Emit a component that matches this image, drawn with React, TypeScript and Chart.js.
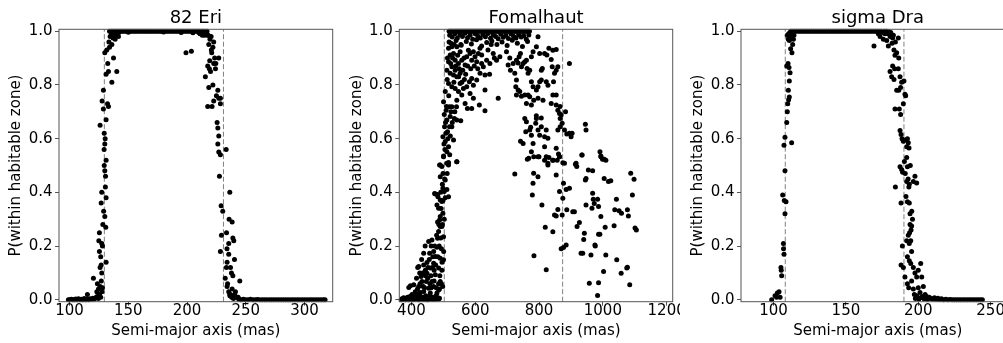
import React, { useEffect, useRef } from "react";
import { Chart, registerables } from "chart.js";

Chart.register(...registerables);

type Pt = [number, number];

// ---------- tick labels / ranges ----------
const yTickValues = [0, 0.2, 0.4, 0.6, 0.8, 1.0];
const eriTickValues = [100, 150, 200, 250, 300];
const fomTickValues = [400, 600, 800, 1000, 1200];
const sigTickValues = [100, 150, 200, 250];

const eriHabitableZone = [129.6, 231];
const fomHabitableZone = [503, 874];
const sigHabitableZone = [108.1, 190.1];

const eriXRange = [91, 324];
const fomXRange = [362, 1219];
const sigXRange = [77.5, 266.5];
const yRange = [-0.007, 1.007];

const titles = ["82 Eri", "Fomalhaut", "sigma Dra"];
const xAxisLabel = "Semi-major axis (mas)";
const yAxisLabel = "P(within habitable zone)";

// ---------- 82 Eri ----------
const eriPoints: Pt[] = [
  [99, 0], [100.3, 0], [101.5, 0.002], [102.7, 0], [104, 0], [105.2, 0.003], [106.4, 0], [107.6, 0.004], [108.8, 0], [110, 0.002],
  [111.3, 0], [112.5, 0.005], [113.7, 0], [114.9, 0.003], [116.1, 0], [117.3, 0.004], [118.5, 0.002], [119.8, 0.006], [121, 0.003],
  [122.2, 0.008], [123.4, 0.012], [124.5, 0.005], [125.5, 0.015],
  [115.2, 0.02], [120.3, 0.08], [123.2, 0.03], [123.7, 0.06], [124.6, 0.04], [126, 0.05], [126, 0.12], [126.9, 0.13], [127.4, 0.1],
  [125.4, 0.18], [124.9, 0.22], [127.4, 0.21], [125.4, 0.25], [128.3, 0.28], [130.8, 0.27], [131.1, 0.14], [126.9, 0.36], [131.1, 0.38],
  [127.4, 0.4], [130.6, 0.46], [131.1, 0.52], [129.4, 0.56], [130.3, 0.6], [126, 0.65], [131.1, 0.67], [128.8, 0.71], [127.7, 0.74],
  [132.3, 0.73], [133.1, 0.72], [128.8, 0.78], [131.1, 0.84], [133.1, 0.85], [140.2, 0.85], [136, 0.81], [137.4, 0.9], [130, 0.92],
  [131.7, 0.93], [136, 0.95], [138.8, 0.97], [141.6, 0.98], [139.7, 0.99],
  [130, 0.48], [130.5, 0.42], [129.5, 0.5], [130, 0.58], [129.5, 0.62], [130, 0.31], [129, 0.33], [128, 0.2], [126.5, 0.16], [127, 0.07],
  [125.5, 0.02], [126.5, 0.01], [127.5, 0.03], [128, 0.045],
  [133.5, 0.96], [134.5, 0.98], [135.5, 0.99], [137, 0.975], [138, 0.985], [134, 0.94], [132.5, 0.88],
  [134, 1], [135.5, 1], [137, 1], [138.5, 1], [140, 1], [141.5, 1], [143, 1], [144.5, 1], [146, 1], [147.5, 1], [149, 1], [150.5, 1],
  [152, 1], [153.5, 1], [155, 1], [156.5, 1], [158, 1], [159.5, 1], [161, 1], [162.5, 1], [164, 1], [165.5, 1], [167, 1], [168.5, 1],
  [170, 1], [171.5, 1], [173, 1], [174.5, 1], [176, 1], [177.5, 1], [179, 1], [180.5, 1], [182, 1], [183.5, 1], [185, 1], [186.5, 1],
  [188, 1], [189.5, 1], [191, 1], [192.5, 1], [194, 1], [195.5, 1], [197, 1], [198.5, 1], [200, 1], [201.5, 1], [203, 1], [204.5, 1],
  [206, 1], [207.5, 1], [209, 1], [210.5, 1], [212, 1], [213.5, 1], [215, 1],
  [142, 0.995], [150, 0.996], [180, 0.997], [195, 0.995], [205, 0.994], [211, 0.99], [213, 0.985], [216, 0.99], [217.5, 0.985],
  [199.1, 0.92], [203.7, 0.925],
  [222.7, 0.96], [218.5, 0.95], [220.7, 0.93], [227, 0.9], [219.3, 0.89], [222.7, 0.88], [217.6, 0.87], [224.2, 0.86], [215.6, 0.83],
  [218.5, 0.79], [226.2, 0.78], [225, 0.76], [228.4, 0.75], [222.7, 0.74], [217.6, 0.72], [221.3, 0.72], [228.4, 0.73], [225.6, 0.66],
  [226.2, 0.64], [227, 0.61], [226.2, 0.58], [227, 0.55], [228.4, 0.54], [233.3, 0.56], [227.6, 0.46], [229, 0.35], [230.4, 0.33],
  [236.4, 0.4], [235.8, 0.3], [238.4, 0.29], [229.3, 0.24], [233.6, 0.25], [239, 0.23], [239.8, 0.22], [235.5, 0.21], [228.4, 0.18],
  [235.5, 0.17], [240.4, 0.15], [234.1, 0.14], [237, 0.12], [237.8, 0.1], [239, 0.09], [244.9, 0.07], [234.1, 0.05], [238.4, 0.04],
  [241.2, 0.03], [236.4, 0.02], [242.7, 0.01],
  [216, 0.99], [218, 0.985], [219.5, 0.97], [220.5, 0.98], [222, 0.94], [223.5, 0.9], [221, 0.92], [220, 0.85], [224.5, 0.88], [222, 0.8],
  [227, 0.75], [219, 0.86], [214, 0.995], [212, 0.99], [210, 0.995], [217, 1], [215, 0.985],
  [234.5, 0.06], [235.5, 0.03], [237, 0.02], [238, 0.01], [239.5, 0.005], [240.5, 0.02], [241.5, 0.01], [233.5, 0.12], [234, 0.19],
  [232.5, 0.08], [236.5, 0.015], [243.5, 0.01],
  [244, 0.003], [246, 0], [248, 0.002], [250, 0], [252, 0], [254, 0.002], [256, 0], [258, 0], [260, 0.001], [262, 0], [264, 0], [266, 0],
  [268, 0], [270, 0], [272, 0], [274, 0], [276, 0], [278, 0], [280, 0], [282, 0], [284, 0], [286, 0], [288, 0], [290, 0], [292, 0],
  [294, 0], [296, 0], [298, 0], [300, 0], [302, 0], [304, 0], [306, 0], [308, 0], [310, 0], [312, 0], [314, 0], [316, 0], [317.5, 0],
];

// ---------- Fomalhaut ----------
const fomPoints: Pt[] = [
  [368, 0], [370.5, 0.004], [373, 0.001], [375.5, 0.008], [378, 0.002], [380.5, 0], [383, 0.006], [385.5, 0.003], [388, 0.01], [390.5, 0],
  [393, 0.005], [395.5, 0.012], [398, 0.002], [400.5, 0.007], [403, 0], [405.5, 0.004], [408, 0.009], [410.5, 0.001], [413, 0.006],
  [415.5, 0.011], [418, 0.003], [420.5, 0.008], [423, 0], [425.5, 0.005], [428, 0.013], [430.5, 0.002], [433, 0.007], [435.5, 0.004],
  [438, 0.01], [440.5, 0.001], [443, 0.006], [445.5, 0.003], [448, 0.009], [450.5, 0], [453, 0.005], [455.5, 0.012], [458, 0.002],
  [460.5, 0.007], [463, 0.004], [465.5, 0.01], [468, 0.001], [470.5, 0.006], [473, 0.003], [475.5, 0.009], [478, 0.002], [480.5, 0.005],
  [483, 0.008], [485.5, 0.003], [488, 0.006],
  [396.9, 0.052], [407.3, 0.056], [422.8, 0.124], [430.1, 0.087], [438.4, 0.13], [443.6, 0.11], [448.8, 0.139], [433.2, 0.068],
  [422.8, 0.05], [446.7, 0.068], [454, 0.217], [457.1, 0.173], [464.4, 0.223], [469.6, 0.18], [438.4, 0.173], [448.8, 0.099],
  [459.2, 0.118], [469.6, 0.136], [474.8, 0.161], [480, 0.196], [482, 0.229], [485.2, 0.254], [488.3, 0.297], [490.3, 0.31],
  [474.8, 0.394], [483.1, 0.384], [480, 0.353], [485.2, 0.341], [490.3, 0.372], [495.5, 0.366], [498.6, 0.415], [502.8, 0.403],
  [498.6, 0.322], [490.3, 0.273], [495.5, 0.273], [500.7, 0.235], [490.3, 0.458], [488.3, 0.502], [495.5, 0.496], [500.7, 0.533],
  [511.1, 0.508], [516.3, 0.511], [542.3, 0.514], [506, 0.446], [511.1, 0.411], [516.3, 0.384], [500.7, 0.149], [495.5, 0.11],
  [490.3, 0.068], [485.2, 0.037], [469.6, 0.05], [459.2, 0.025], [480, 0.025], [438.4, 0.031], [428, 0.027], [417.7, 0.021],
  [464.4, 0.068], [474.8, 0.093], [485.2, 0.118], [490.3, 0.155], [454, 0.043],
  [412, 0.03], [427, 0.06], [435, 0.1], [441, 0.045], [451, 0.08], [456, 0.15], [461, 0.09], [466, 0.12], [471, 0.07], [476, 0.13],
  [478, 0.045], [483, 0.16], [487, 0.2], [492, 0.23], [494, 0.19], [497, 0.28], [493, 0.34], [499, 0.37], [486, 0.28], [479, 0.24],
  [473, 0.2], [467, 0.16], [462, 0.2], [452, 0.12], [444, 0.09], [416, 0.08], [409, 0.015], [402, 0.02], [445, 0.015], [462, 0.045],
  [477, 0.015], [489, 0.09], [496, 0.14], [501, 0.18], [503, 0.3], [504, 0.45], [497, 0.43], [492, 0.4], [506, 0.38], [482, 0.29],
  [471, 0.11], [458, 0.06], [443, 0.2], [432, 0.15], [426, 0.1], [419, 0.04], [437, 0.05], [485, 0.06], [498, 0.05], [494, 0.06],
  [488, 0.04], [419.7, 0.12], [391.7, 0.046], [472.7, 0.396], [482, 0.392],
  [506, 0.775], [500.7, 0.737], [509, 0.706], [511.1, 0.669], [503.8, 0.644], [513.2, 0.626], [519.4, 0.719], [526.7, 0.719],
  [521.5, 0.682], [534.5, 0.675], [541.3, 0.719], [519.4, 0.644], [526.7, 0.644], [531.9, 0.595], [516.3, 0.57], [506, 0.589],
  [498.7, 0.607], [500.7, 0.535], [511.1, 0.551], [542.3, 0.669], [554.7, 0.667], [490.3, 0.502], [516.3, 0.502], [542.3, 0.514],
  [503, 0.69], [508, 0.62], [514, 0.6], [522, 0.61], [528, 0.66], [536, 0.7], [505, 0.56], [510, 0.72], [517, 0.76], [524, 0.7],
  [502, 0.58], [507, 0.66], [520, 0.54], [512, 0.47], [499, 0.47],
  [511.1, 0.855], [516.3, 0.886], [521.5, 0.911], [516.3, 0.936], [526.7, 0.942], [531.9, 0.917], [537.1, 0.892], [542.3, 0.942],
  [552.7, 0.923], [547.5, 0.88], [557.8, 0.892], [521.5, 0.843], [526.7, 0.868], [531.9, 0.837], [537.1, 0.855], [542.3, 0.83],
  [552.7, 0.843], [560.9, 0.855], [568.2, 0.874], [573.4, 0.905], [578.6, 0.929], [583.8, 0.917], [589, 0.892], [594.2, 0.923],
  [599.4, 0.905], [604.6, 0.886], [609.8, 0.917], [615, 0.936], [620.2, 0.911], [625.4, 0.868], [635.8, 0.892], [630.6, 0.837],
  [516.3, 0.805], [526.7, 0.793], [537.1, 0.787], [547.5, 0.775], [552.7, 0.805], [557.8, 0.762], [542.3, 0.743], [563, 0.787],
  [573.4, 0.793], [581.7, 0.812], [589, 0.824], [594.2, 0.799], [583.8, 0.768], [568.2, 0.731], [575.4, 0.712], [589, 0.712],
  [612.9, 0.725], [630.6, 0.781], [630.6, 0.704], [594.2, 0.75], [604.6, 0.818], [615, 0.843], [672, 0.75], [666.8, 0.892],
  [646, 0.88], [656.4, 0.917],
  [513, 0.9], [518, 0.96], [523, 0.88], [529, 0.9], [534, 0.95], [539, 0.87], [545, 0.91], [550, 0.86], [555, 0.95], [565, 0.9],
  [570, 0.84], [576, 0.87], [586, 0.86], [597, 0.87], [608, 0.86], [620, 0.88], [640, 0.93], [650, 0.95], [660, 0.9], [645, 0.84],
  [512, 0.82], [533, 0.81], [548, 0.83], [558, 0.81], [566, 0.82],
  [677.2, 0.905], [698, 0.923], [708.4, 0.9], [703.2, 0.874], [710.4, 0.855], [718.8, 0.88], [724, 0.843], [729.2, 0.892],
  [734.4, 0.882], [737.6, 0.905], [741.7, 0.917], [744.9, 0.868], [750.1, 0.88], [755.3, 0.886], [760.5, 0.892], [762.5, 0.861],
  [765.7, 0.843], [770.9, 0.855], [776.1, 0.905], [781.3, 0.923], [791.7, 0.942], [796.8, 0.979], [802, 0.917], [807.2, 0.855],
  [810.3, 0.861], [802, 0.812], [807.2, 0.818], [796.8, 0.793], [791.7, 0.781], [781.3, 0.793], [776.1, 0.812], [729.2, 0.818],
  [727.1, 0.793], [734.4, 0.781], [739.6, 0.775], [729.2, 0.762], [744.9, 0.758], [755.3, 0.762], [765.7, 0.762], [770.9, 0.756],
  [760.5, 0.731], [776.1, 0.725], [783.4, 0.743], [796.8, 0.75], [812.4, 0.743], [822.8, 0.812], [828, 0.799], [817.4, 0.917],
  [824.6, 0.911], [830.9, 0.936], [838.2, 0.895], [841.3, 0.868], [843.4, 0.929], [838.2, 0.731], [843.4, 0.762], [853.8, 0.762],
  [845.4, 0.812], [853.8, 0.725], [859, 0.706], [864.2, 0.694], [869.4, 0.688], [866.3, 0.675], [859, 0.632], [866.3, 0.644],
  [872.5, 0.657], [879.8, 0.632], [895.3, 0.88], [887, 0.617], [895.3, 0.62], [903.6, 0.62], [900.5, 0.607], [945.2, 0.654],
  [947.3, 0.632], [755.3, 0.675], [760.5, 0.663], [750.1, 0.582], [758.4, 0.626], [770.9, 0.632], [776.1, 0.613], [791.7, 0.675],
  [789.6, 0.657], [796.8, 0.632], [802, 0.613], [807.2, 0.644], [817.4, 0.607], [822.6, 0.632], [827.8, 0.601], [817.4, 0.57],
  [781.3, 0.582], [783.4, 0.533], [767.7, 0.527], [776.1, 0.551], [742, 0.59], [796.8, 0.533], [822.6, 0.533], [827.8, 0.508],
  [843.4, 0.52], [853.8, 0.564], [856.9, 0.52], [864.2, 0.533], [874.6, 0.51], [914.1, 0.505], [935, 0.539], [991, 0.551],
  [994, 0.533], [1004.4, 0.523], [1009.6, 0.52], [853.8, 0.855], [859, 0.868], [848.5, 0.843], [853.8, 0.932],
  [773.8, 0.642], [807, 0.677], [791.5, 0.685], [866, 0.72], [883, 0.7],
  [518, 1], [522, 1], [526, 1], [530, 1], [534, 1], [538, 1], [542, 1], [546, 1], [550, 1], [554, 1], [558, 1], [562, 1], [566, 1],
  [570, 1], [574, 1], [578, 1], [582, 1], [586, 1], [590, 1], [594, 1], [598, 1], [602, 1], [606, 1], [610, 1], [614, 1], [618, 1],
  [622, 1], [626, 1], [630, 1], [634, 1], [638, 1], [642, 1], [646, 1], [650, 1], [654, 1], [658, 1], [662, 1], [666, 1], [670, 1],
  [674, 1], [678, 1], [682, 1], [686, 1], [690, 1], [694, 1], [698, 1], [702, 1], [706, 1], [710, 1], [714, 1], [718, 1], [722, 1],
  [726, 1], [730, 1], [734, 1], [738, 1], [742, 1], [746, 1], [750, 1], [754, 1], [758, 1], [762, 1], [766, 1], [770, 1],
  [520, 0.985], [528, 0.978], [536, 0.99], [544, 0.975], [552, 0.988], [560, 0.98], [568, 0.992], [576, 0.976], [584, 0.985],
  [592, 0.97], [600, 0.99], [608, 0.982], [616, 0.975], [624, 0.988], [632, 0.979], [640, 0.991], [648, 0.974], [656, 0.986],
  [664, 0.98], [672, 0.972], [680, 0.989], [688, 0.977], [696, 0.984], [704, 0.973], [712, 0.99], [720, 0.981], [728, 0.975],
  [736, 0.987], [744, 0.978], [752, 0.983], [760, 0.97], [768, 0.986],
  [524, 0.955], [540, 0.965], [556, 0.948], [572, 0.962], [588, 0.952], [604, 0.968], [620, 0.945], [636, 0.958], [652, 0.963],
  [668, 0.95], [684, 0.96], [700, 0.947], [716, 0.966], [732, 0.955], [748, 0.943], [764, 0.962],
  [724, 0.468], [763.4, 0.523], [781.1, 0.434], [779, 0.39], [783.1, 0.471], [796.6, 0.458], [799.8, 0.533], [809.1, 0.353],
  [819.5, 0.27], [822.6, 0.112], [784.1, 0.164], [817.4, 0.52], [831, 0.53], [843.3, 0.52], [827.8, 0.502], [853.8, 0.465],
  [843.3, 0.253], [848.5, 0.316], [853.8, 0.312], [859, 0.336], [864.2, 0.533], [861, 0.543], [864.2, 0.403], [874.6, 0.378],
  [876.7, 0.434], [879.8, 0.508], [885, 0.411], [895.4, 0.415], [869.4, 0.19], [876.7, 0.195], [885, 0.204], [872.5, 0.316],
  [887, 0.335], [905.7, 0.328], [910.9, 0.328], [916.1, 0.508], [918.2, 0.496], [919.2, 0.273], [926.5, 0.288], [934.2, 0.539],
  [931.7, 0.173], [937, 0.173], [940, 0.225], [942.1, 0.248], [947.3, 0.353], [945.3, 0.446], [947.3, 0.452], [954.6, 0.483],
  [968, 0.48], [957.6, 0.062], [962.8, 0.167], [965.9, 0.341], [968, 0.397], [970, 0.374], [973.1, 0.359], [975.2, 0.204],
  [983.5, 0.374], [986.6, 0.244], [990.7, 0.244], [993.8, 0.31], [986.6, 0.347], [976.3, 0.2], [983.5, 0.016], [986.6, 0.064],
  [993.8, 0.535], [999, 0.523], [1002.3, 0.105], [1004.2, 0.452], [1007.3, 0.27], [1009.3, 0.167], [1017.6, 0.44], [1024.9, 0.443],
  [1035.3, 0.276], [1037.4, 0.335], [1042.6, 0.374], [1043.6, 0.149], [1050.9, 0.332], [1057.4, 0.099], [1058.4, 0.322],
  [1077, 0.335], [1075, 0.118], [1077, 0.121], [1084.3, 0.056], [1080.1, 0.312], [1087.4, 0.471], [1097.8, 0.449], [1092.6, 0.39],
  [1100.9, 0.267], [1105.1, 0.26],
];

// ---------- sigma Dra ----------
const sigPoints: Pt[] = [
  [98.7, 0], [101, 0.015], [102.6, 0.025], [103.8, 0.03], [102.1, 0.01], [104.5, 0.01], [105.1, 0.12], [105.3, 0.11], [105.6, 0.09],
  [106.8, 0.21], [106.9, 0.19], [107.2, 0.17], [106.3, 0.39], [107.4, 0.37], [108.6, 0.365], [107.9, 0.32], [107.9, 0.48],
  [107.2, 0.575], [107.9, 0.605], [109.1, 0.66], [112.5, 0.585], [109.5, 0.7], [109.8, 0.73], [110.2, 0.78], [110.9, 0.755],
  [110.4, 0.745], [110.9, 0.815], [110, 0.88], [109.1, 0.87], [110.7, 0.865], [111.4, 0.845], [111.8, 0.935], [113.2, 0.95],
  [110.2, 0.97], [109.5, 0.985], [111.4, 0.995], [112.7, 0.92], [113.7, 0.97], [114.1, 0.985], [110.9, 0.965], [112, 0.975],
  [110.4, 0.99], [112.5, 0.99],
  [112, 1], [113.3, 1], [114.6, 1], [115.9, 1], [117.2, 1], [118.5, 1], [119.8, 1], [121.1, 1], [122.4, 1], [123.7, 1], [125, 1],
  [126.3, 1], [127.6, 1], [128.9, 1], [130.2, 1], [131.5, 1], [132.8, 1], [134.1, 1], [135.4, 1], [136.7, 1], [138, 1], [139.3, 1],
  [140.6, 1], [141.9, 1], [143.2, 1], [144.5, 1], [145.8, 1], [147.1, 1], [148.4, 1], [149.7, 1], [151, 1], [152.3, 1], [153.6, 1],
  [154.9, 1], [156.2, 1], [157.5, 1], [158.8, 1], [160.1, 1], [161.4, 1], [162.7, 1], [164, 1], [165.3, 1], [166.6, 1], [167.9, 1],
  [169.2, 1], [170.5, 1], [171.8, 1], [173.1, 1], [174.4, 1],
  [169.4, 0.945], [173.6, 0.98], [175.9, 0.97], [178.2, 0.965], [179.3, 0.945], [177, 0.99], [180.5, 0.98], [181.9, 0.955],
  [183.2, 0.93], [185.1, 0.92], [186.2, 0.975], [183.9, 0.91], [186.5, 0.9], [175.4, 0.995], [172.4, 0.99], [179.3, 0.99],
  [180.9, 0.99], [182.3, 0.975], [184.2, 0.96], [182.8, 0.985], [176.5, 1], [178, 1], [179.5, 0.998], [181, 0.995],
  [180.5, 0.85], [181.6, 0.83], [183.2, 0.82], [182.3, 0.87], [183.7, 0.86], [186.2, 0.86], [187.4, 0.83], [185.1, 0.78],
  [186.5, 0.78], [187.8, 0.79], [188.5, 0.81], [190.1, 0.815], [190.8, 0.765], [191.3, 0.76], [183.9, 0.71], [186.9, 0.71],
  [189.7, 0.73], [187.8, 0.69], [187.4, 0.63], [188.1, 0.615], [188.8, 0.6], [189.7, 0.59], [190.8, 0.595], [192.5, 0.6],
  [193.1, 0.585], [192, 0.57], [193.6, 0.565], [187.4, 0.495], [188.5, 0.485], [189.2, 0.475], [190.4, 0.515], [192, 0.53],
  [192.5, 0.495], [192, 0.44], [193.8, 0.43], [197.7, 0.46], [198.9, 0.435], [196.6, 0.44], [184.2, 0.42], [188.1, 0.36],
  [191.5, 0.385], [192.5, 0.365], [193.8, 0.36], [194.3, 0.32], [193.1, 0.24], [193.8, 0.21], [194.8, 0.22], [189, 0.2],
  [194.3, 0.28], [195.4, 0.275], [195, 0.26], [188.1, 0.13], [189.7, 0.12], [192.5, 0.16], [193.8, 0.145], [195.4, 0.18],
  [194.8, 0.135], [196.6, 0.12], [197.7, 0.1], [198.9, 0.085], [200, 0.11], [201.7, 0.135], [202.4, 0.085], [203.5, 0.05],
  [200, 0.045], [195.4, 0.07], [196.6, 0.04], [197.3, 0.02], [198.9, 0.015], [201.2, 0.027], [204.7, 0.02], [205.8, 0.012],
  [190.8, 0.085], [192.5, 0.06], [193.4, 0.045],
  [193, 0.45], [194.5, 0.5], [191, 0.47], [195.5, 0.33], [196, 0.3], [193.5, 0.42], [194, 0.25], [192, 0.22],
  [198, 0.005], [199.2, 0.01], [200.4, 0.003], [201.6, 0.008], [202.8, 0.012], [204, 0.004], [205.2, 0.007], [206.4, 0.002],
  [207.6, 0.01], [208.8, 0.005], [210, 0.003], [211.2, 0.008], [212.4, 0.002], [213.6, 0.006], [214.8, 0.001], [216, 0.004],
  [217.5, 0], [219, 0.002], [220.5, 0], [222, 0.001], [223.5, 0], [225, 0], [226.5, 0], [228, 0], [229.5, 0], [231, 0], [232.5, 0],
  [234, 0], [235.5, 0], [237, 0], [238.5, 0], [240, 0], [241.5, 0], [243, 0], [244.3, 0],
];

// ---------- layout / style ----------
const FONT = "'DejaVu Sans', 'Liberation Sans', sans-serif";
const CANVAS_W = 340;
const CANVAS_H = 343;
const X_AXIS_H = 41.3;

const panels = [
  { title: titles[0], points: eriPoints, hz: eriHabitableZone, ticks: eriTickValues, xRange: eriXRange, left: 0, axisW: 59, padR: 7.3 },
  { title: titles[1], points: fomPoints, hz: fomHabitableZone, ticks: fomTickValues, xRange: fomXRange, left: 340, axisW: 59.3, padR: 7.3 },
  { title: titles[2], points: sigPoints, hz: sigHabitableZone, ticks: sigTickValues, xRange: sigXRange, left: 680, axisW: 61, padR: 5.5 },
];

const framePlugin = {
  id: "frame",
  afterDraw(chart: any) {
    const { ctx, chartArea: a } = chart;
    ctx.save();
    ctx.strokeStyle = "#555";
    ctx.lineWidth = 1;
    ctx.strokeRect(a.left, a.top, a.right - a.left, a.bottom - a.top);
    ctx.restore();
  },
};

function Panel({ cfg }: { cfg: any }) {
  const ref = useRef<HTMLCanvasElement>(null);
  useEffect(() => {
    const vline = (x: number) => ({
      data: [{ x, y: yRange[0] }, { x, y: yRange[1] }],
      showLine: true,
      borderColor: "#808080",
      borderWidth: 1,
      borderDash: [5, 2.5],
      pointRadius: 0,
      clip: false,
    });
    const chart = new Chart(ref.current as HTMLCanvasElement, {
      type: "scatter",
      data: {
        datasets: [
          {
            data: cfg.points.map((p: Pt) => ({ x: p[0], y: p[1] })),
            backgroundColor: "#000",
            borderWidth: 0,
            pointRadius: 2.5,
            pointHoverRadius: 2.5,
            clip: false,
          } as any,
          vline(cfg.hz[0]) as any,
          vline(cfg.hz[1]) as any,
        ],
      },
      options: {
        responsive: false,
        animation: false,
        devicePixelRatio: 1,
        events: [],
        layout: { padding: { left: 0, right: cfg.padR, top: 0, bottom: 0 } },
        plugins: {
          legend: { display: false },
          tooltip: { enabled: false },
          title: {
            display: true,
            text: cfg.title,
            fullSize: false,
            color: "#000",
            font: { family: FONT, size: 18, weight: "normal" },
            padding: { top: 7.2, bottom: 0.5 },
          },
        },
        scales: {
          x: {
            type: "linear",
            min: cfg.xRange[0],
            max: cfg.xRange[1],
            afterBuildTicks: (s: any) => {
              s.ticks = cfg.ticks.map((v: number) => ({ value: v }));
            },
            afterFit: (s: any) => {
              s.height = X_AXIS_H;
              s.paddingLeft = 0;
              s.paddingRight = 0;
            },
            grid: { display: true, drawOnChartArea: false, drawTicks: true, tickLength: 4, color: "#555", lineWidth: 1 },
            border: { display: false },
            ticks: {
              color: "#000",
              font: { family: FONT, size: 15, lineHeight: 0.8 },
              padding: -1,
              maxRotation: 0,
              autoSkip: false,
              callback: (v: any) => String(v),
            },
            title: {
              display: true,
              text: xAxisLabel,
              color: "#000",
              font: { family: FONT, size: 15 },
              padding: { top: 0, bottom: 2.5 },
            },
          },
          y: {
            type: "linear",
            min: yRange[0],
            max: yRange[1],
            afterBuildTicks: (s: any) => {
              s.ticks = yTickValues.map((v) => ({ value: v }));
            },
            afterFit: (s: any) => {
              s.width = cfg.axisW;
              s.paddingTop = 0;
              s.paddingBottom = 0;
            },
            grid: { display: true, drawOnChartArea: false, drawTicks: true, tickLength: 4, color: "#555", lineWidth: 1 },
            border: { display: false },
            ticks: {
              color: "#000",
              font: { family: FONT, size: 15 },
              padding: 2.5,
              autoSkip: false,
              callback: (v: any) => Number(v).toFixed(1),
            },
            title: {
              display: true,
              text: yAxisLabel,
              color: "#000",
              font: { family: FONT, size: 15 },
              padding: { top: cfg.axisW - 42.5 - 9, bottom: 0 },
            },
          },
        },
      } as any,
      plugins: [framePlugin],
    });
    return () => chart.destroy();
  }, [cfg]);
  return (
    <canvas
      ref={ref}
      width={CANVAS_W}
      height={CANVAS_H}
      style={{ position: "absolute", left: cfg.left, top: 0, width: CANVAS_W, height: CANVAS_H }}
    />
  );
}

export default function App() {
  return (
    <div
      style={{
        position: "fixed",
        left: 0,
        top: 0,
        width: 1003,
        height: 343,
        overflow: "hidden",
        background: "#fff",
      }}
    >
      {panels.map((p, i) => (
        <Panel key={i} cfg={p} />
      ))}
    </div>
  );
}
